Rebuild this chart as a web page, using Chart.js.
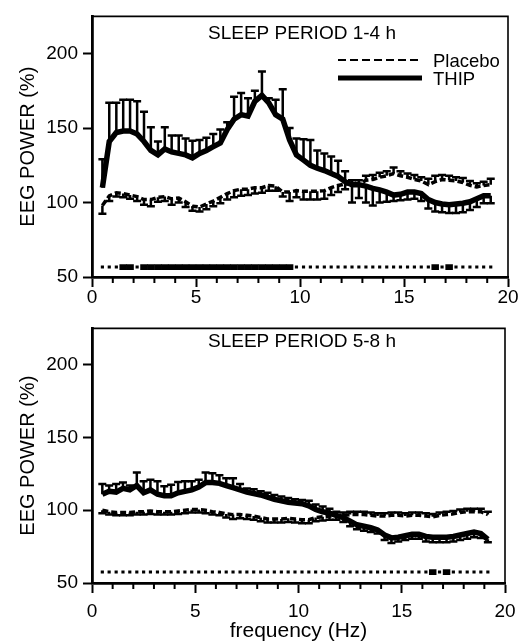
<!DOCTYPE html>
<html>
<head>
<meta charset="utf-8">
<script src="https://cdn.jsdelivr.net/npm/chart.js@4.4.0/dist/chart.umd.min.js"></script>
<style>
  html, body { margin: 0; padding: 0; background: #fff; }
  #wrap { position: relative; width: 525px; height: 644px; }
  canvas { position: absolute; left: 0; }
  #topChart { top: 0; }
  #bottomChart { top: 312px; }
</style>
</head>
<body>
<div id="wrap">
  <canvas id="topChart" width="525" height="312"></canvas>
  <canvas id="bottomChart" width="525" height="332"></canvas>
</div>
<script>
const FONT = '"Liberation Sans", Arial, Helvetica, sans-serif';

// frequency bins (Hz)
const freqs = [0.5, 0.83, 1.17, 1.5, 1.83, 2.17, 2.5, 2.83, 3.17, 3.5, 3.83, 4.17, 4.5, 4.83, 5.17, 5.5, 5.83, 6.17, 6.5, 6.83,
  7.17, 7.5, 7.83, 8.17, 8.5, 8.83, 9.17, 9.5, 9.83, 10.17, 10.5, 10.83, 11.17, 11.5, 11.83, 12.17, 12.5, 12.83, 13.17, 13.5,
  13.83, 14.17, 14.5, 14.83, 15.17, 15.5, 15.83, 16.17, 16.5, 16.83, 17.17, 17.5, 17.83, 18.17, 18.5, 18.83, 19.17];

const xTicks = [0, 5, 10, 15, 20];
const xMinor = [1, 2, 3, 4, 6, 7, 8, 9, 11, 12, 13, 14, 16, 17, 18, 19];
const yTicks = [50, 100, 150, 200];

// ---- sleep period 1-4 h ----
const thip14 = [110, 141, 147, 148, 148, 146, 141, 135, 132, 136, 134, 133, 132, 130, 133, 135, 137.5, 140, 149, 156,
  159, 158, 168, 172, 167, 159, 156, 142, 132, 128.5, 125, 123, 121.5, 119.5, 117.5, 114, 112, 112, 111, 109.5,
  108.5, 107, 105, 105.5, 107, 107, 106, 102, 100, 99, 98.5, 99, 99.5, 100.5, 102.5, 104.5, 104.5];
// end value of each SEM bar (drawn away from the other curve)
const thip14Err = [129, 167, 167, 169, 169, 168, 161, 150.5, 141, 150.5, 145, 145, 143, 141.5, 142, 143.5, 146, 149, 154, 171,
  173.5, 170, 175, 188, 170, 169, 176, 150, 143, 142.5, 142, 135, 133, 131, 128, 121, 100, 103, 100, 98,
  100, 100.5, 101, 101.5, 102, 102.5, 101, 96, 94, 93.5, 93, 93, 93.5, 95, 97, 99.5, 99.5];
const plac14 = [98, 104.5, 106.5, 106, 105, 104, 102, 102, 103.5, 104, 102.5, 103, 100.5, 97.5, 97, 99, 101, 103.5, 106, 108,
  109, 109, 110, 110, 111.5, 111, 107, 107, 108, 107.5, 107.5, 107.5, 108, 110, 111.5, 112.5, 112.5, 112, 115, 115.5,
  117, 118, 119.5, 118, 117, 115.5, 114.5, 112, 114, 115.5, 115, 114.5, 113.5, 111.5, 110.5, 111.5, 112];
const plac14Err = [92.5, 101, 104, 103.5, 102.5, 101, 98.5, 97.5, 100.5, 101, 98.5, 100, 97, 94.5, 94, 95.5, 97.5, 99.5, 102, 103.5,
  104.5, 105, 106, 106.5, 108, 108, 104, 101, 103.5, 102, 102, 102, 102.5, 105, 107, 109, 115, 115, 118, 118.5,
  120, 121, 123.5, 121, 119.5, 118.5, 117, 116, 118, 118.5, 118, 117, 116.5, 114.5, 113, 114, 116];
// 1 = significant bin (thick bar), 0 = not (dot)
const sig14 = [0, 0, 0, 1, 1, 0, 1, 1, 1, 1, 1, 1, 1, 1, 1, 1, 1, 1, 1, 1,
  1, 1, 1, 1, 1, 1, 1, 1, 0, 0, 0, 0, 0, 0, 0, 0, 0, 0, 0, 0,
  0, 0, 0, 0, 0, 0, 0, 0, 1, 0, 1, 0, 0, 0, 0, 0, 0];

// ---- sleep period 5-8 h ----
const thip58 = [111, 113, 112.5, 115, 114, 117, 112, 114, 111, 110, 110, 112, 113, 114, 116, 119, 119, 118.5, 117, 115.5,
  114, 112.5, 111.5, 110.5, 109, 107.5, 106.5, 105.5, 105, 104.5, 103, 100.5, 99, 98, 96.5, 95, 92.5, 90, 89, 88,
  86.5, 83, 81, 81.5, 82.5, 83.5, 83.5, 82, 81.5, 81.5, 81.5, 82, 83, 84, 85, 84, 80];
const thip58Err = [118, 117, 118, 119, 117, 126, 120, 121, 120, 116.5, 117.5, 119.5, 120, 120, 121, 126, 125.5, 124, 122, 122,
  118, 115, 114.5, 113, 112, 110.5, 109.5, 108.5, 107.5, 107, 106.5, 104, 102.5, 101, 99, 92, 89, 87, 86, 85,
  84, 79.5, 77.5, 78.5, 79.5, 80.5, 80.5, 78.5, 78, 78, 78, 78.5, 79.5, 80.5, 81.5, 81, 78];
const plac58 = [100, 99, 98.5, 98.5, 98.5, 99, 99, 99.5, 99, 99, 99, 99.5, 100, 100.5, 100.5, 100, 99, 98.5, 97.5, 97,
  97, 96.5, 96, 95, 94, 94, 94, 94.5, 94, 93.5, 93.5, 95, 95.5, 96, 96, 96.5, 97, 97, 97, 96.5,
  96, 96, 96.5, 96.5, 96, 96.5, 96.5, 96, 95.5, 96.5, 97, 97.5, 98.5, 99, 99, 99, 97];
const plac58Err = [98, 97, 96.5, 96.5, 96.5, 97, 97, 97.5, 97, 97, 97, 97.5, 98, 98.5, 98.5, 98, 97, 96.5, 95, 94,
  94.5, 94, 93.5, 92.5, 91.5, 91.5, 91.5, 92, 91.5, 91, 91, 92.5, 93, 93.5, 93.5, 98.5, 99, 99, 99, 98.5,
  98, 98, 98.5, 98.5, 98, 98.5, 98.5, 98, 97.5, 98.5, 99, 99.5, 100.5, 101, 101, 101, 99];
const sig58 = [0, 0, 0, 0, 0, 0, 0, 0, 0, 0, 0, 0, 0, 0, 0, 0, 0, 0, 0, 0,
  0, 0, 0, 0, 0, 0, 0, 0, 0, 0, 0, 0, 0, 0, 0, 0, 0, 0, 0, 0,
  0, 0, 0, 0, 0, 0, 0, 0, 1, 0, 1, 0, 0, 0, 0, 0, 0];

// SEM bars drawn from each point of a line dataset to its errEnds value
const errorBars = {
  id: 'errorBars',
  afterDatasetsDraw(chart) {
    const ctx = chart.ctx;
    const yScale = chart.scales.y;
    chart.data.datasets.forEach((ds, i) => {
      if (!ds.errEnds) return;
      const meta = chart.getDatasetMeta(i);
      ctx.save();
      ctx.strokeStyle = '#000';
      ctx.lineWidth = 2.5;
      meta.data.forEach((pt, j) => {
        const yEnd = yScale.getPixelForValue(ds.errEnds[j]);
        ctx.beginPath();
        ctx.moveTo(pt.x, pt.y);
        ctx.lineTo(pt.x, yEnd);
        ctx.moveTo(pt.x - 4, yEnd);
        ctx.lineTo(pt.x + 4, yEnd);
        ctx.stroke();
      });
      ctx.restore();
    });
  }
};

// box, minor ticks, panel title and legend
const panelDecor = {
  id: 'panelDecor',
  afterDraw(chart, args, opts) {
    const { ctx, chartArea: a } = chart;
    const x = chart.scales.x;
    ctx.save();
    ctx.strokeStyle = '#000';
    ctx.lineWidth = 1.6;
    ctx.beginPath();
    ctx.moveTo(a.left, a.top);
    ctx.lineTo(a.right, a.top);
    ctx.lineTo(a.right, a.bottom);
    ctx.stroke();

    ctx.lineWidth = 2;
    xMinor.forEach(v => {
      const px = x.getPixelForValue(v);
      ctx.beginPath();
      ctx.moveTo(px, a.bottom);
      ctx.lineTo(px, a.bottom + 6);
      ctx.stroke();
    });

    ctx.fillStyle = '#000';
    ctx.font = '19px ' + FONT;
    ctx.textAlign = 'center';
    ctx.textBaseline = 'alphabetic';
    ctx.fillText(opts.title, 302, opts.titleBase);

    if (opts.legend) {
      ctx.lineWidth = 2.2;
      ctx.setLineDash([8, 4]);
      ctx.beginPath();
      ctx.moveTo(338, 60);
      ctx.lineTo(422, 60);
      ctx.stroke();
      ctx.setLineDash([]);
      ctx.lineWidth = 5;
      ctx.beginPath();
      ctx.moveTo(338, 78);
      ctx.lineTo(422, 78);
      ctx.stroke();
      ctx.font = '18.5px ' + FONT;
      ctx.textAlign = 'left';
      ctx.fillText('Placebo', 433, 66.5);
      ctx.fillText('THIP', 433, 85);
    }
    ctx.restore();
  }
};

function buildChart(id, p) {
  const line = (vals, ends, width, dash) => ({
    type: 'line',
    data: freqs.map((f, i) => ({ x: f, y: vals[i] })),
    errEnds: ends,
    borderColor: '#000',
    borderWidth: width,
    borderDash: dash,
    pointRadius: 0,
    tension: 0,
    fill: false
  });
  const thick = freqs.map((f, i) => ({ x: f, y: [p.sigLevel - 1.7, p.sigLevel + 1.7], s: p.sig[i] }))
    .filter(d => d.s === 1);
  const dots = freqs.map((f, i) => ({ x: f, y: [p.sigLevel - 0.8, p.sigLevel + 0.8], s: p.sig[i] }))
    .filter(d => d.s === 0);

  return new Chart(document.getElementById(id), {
    type: 'line',
    data: {
      datasets: [
        line(p.thip, p.thipErr, 5.5, []),
        line(p.plac, p.placErr, 3.5, [6, 3]),
        { type: 'bar', data: thick, backgroundColor: '#000', borderWidth: 0, grouped: false,
          barPercentage: 1, categoryPercentage: 1 },
        { type: 'bar', data: dots, backgroundColor: '#000', borderWidth: 0, grouped: false,
          barThickness: 2.5 }
      ]
    },
    options: {
      responsive: false,
      animation: false,
      devicePixelRatio: 1,
      layout: { padding: { top: p.padTop, right: p.padRight, left: 0, bottom: 0 } },
      plugins: {
        legend: { display: false },
        tooltip: { enabled: false },
        panelDecor: { title: p.title, titleBase: p.titleBase, legend: p.legend }
      },
      scales: {
        x: {
          type: 'linear', min: 0, max: 20, offset: false,
          afterBuildTicks: s => { s.ticks = xTicks.map(v => ({ value: v })); },
          afterFit: s => { s.height = p.xAxisHeight; },
          border: { display: true, color: '#000', width: 2.8 },
          grid: { display: true, drawOnChartArea: false, offset: false, tickLength: 10, tickWidth: 2, tickColor: '#000' },
          ticks: { color: '#000', font: { family: FONT, size: 19 }, padding: p.xPad, maxRotation: 0, autoSkip: false },
          title: {
            display: p.xTitle, text: 'frequency (Hz)', color: '#000',
            font: { family: FONT, size: 21, lineHeight: 1 }, padding: { top: 0, bottom: 2 }
          }
        },
        y: {
          type: 'linear', min: 50, max: 225,
          afterBuildTicks: s => { s.ticks = yTicks.map(v => ({ value: v })); },
          afterFit: s => { s.width = 92; },
          border: { display: true, color: '#000', width: 2.8 },
          grid: { display: true, drawOnChartArea: false, tickLength: 9, tickWidth: 2, tickColor: '#000' },
          ticks: { color: '#000', font: { family: FONT, size: 19 }, padding: 5 },
          title: {
            display: true, text: 'EEG POWER (%)', color: '#000',
            font: { family: FONT, size: 20, lineHeight: 1 }, padding: { top: 18, bottom: 0 }
          }
        }
      }
    },
    plugins: [errorBars, panelDecor]
  });
}

buildChart('topChart', {
  thip: thip14, thipErr: thip14Err, plac: plac14, placErr: plac14Err, sig: sig14, sigLevel: 56.7,
  title: 'SLEEP PERIOD 1-4 h', titleBase: 38.5, legend: true,
  padTop: 8, padRight: 17, xAxisHeight: 35, xPad: -1, xTitle: false
});

buildChart('bottomChart', {
  thip: thip58, thipErr: thip58Err, plac: plac58, placErr: plac58Err, sig: sig58, sigLevel: 57.5,
  title: 'SLEEP PERIOD 5-8 h', titleBase: 34.5, legend: false,
  padTop: 7, padRight: 20, xAxisHeight: 61, xPad: 7, xTitle: true
});
</script>
</body>
</html>
